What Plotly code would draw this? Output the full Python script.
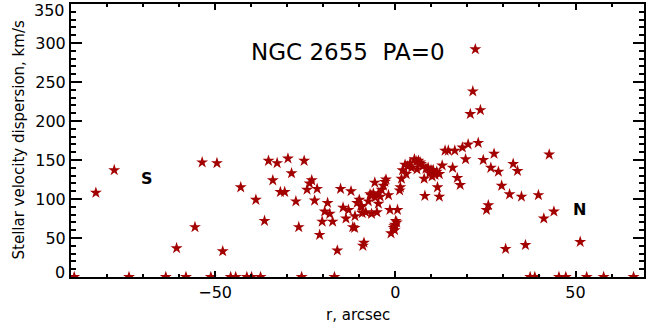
import plotly.graph_objects as go

# Zero-valued points (sigma = 0)
r_zero = [-89.1, -73.9, -63.7, -58.1, -51.2, -45.7, -44.3, -41.2, -39.9, -37.4,
          -26.0, -16.9, 37.4, 38.7, 45.4, 47.3, 53.1, 57.8, 66.1]
sig_zero = [0] * len(r_zero)

r_pts = [-83.1, -78.0, -60.7, -55.6, -53.6, -49.5, -47.9, -42.9, -38.7, -36.3,
         -35.2, -32.8, -34.0, -31.9, -30.7, -29.8, -28.8, -27.6, -26.8, -25.3,
         -24.5, -23.8, -23.2, -21.7, -22.4, -21.0, -20.3, -19.6, -18.8, -18.2,
         -17.4, -16.1, -15.2, -14.5, -13.7, -13.0, -12.3, -11.8, -11.3, -11.2,
         -10.6, -10.0, -9.6, -9.0, -8.7, -9.2, -8.2, -7.5, -6.6, -6.6,
         -5.7, -5.6, -5.1, -4.7, -4.2, -3.8, -3.3, -2.9, -2.6, -1.9,
         -1.5, 0.6, 0.4, -0.1, -0.5, -0.3, -1.2, 1.2, 1.4, 1.7,
         2.0, 2.7, 3.4, 4.1, 4.5, 5.3, 6.4, 7.1, 8.0, 8.2,
         9.1, 9.9, 11.0, 11.7, 12.2, 13.0, 13.8, 14.7, 16.5, 15.9,
         17.2, 18.0, 18.6, 19.5, 20.2, 20.8, 21.5, 22.2, 23.0, 23.6,
         24.4, 26.5, 27.4, 28.6, 29.5, 31.7, 32.7, 33.9, 35.0, 39.7,
         42.7, 25.8, 25.3, 44.0, 41.2, 36.1, 30.6, 51.3,
         5.8, 6.9, 7.6, 8.5, 10.5, 11.5, 12.2, 10.2, 3.0, 6.0,
         9.5, -7.0, -6.1, -4.7, -9.3, -0.2, 0.1]
sig_pts = [108, 137, 37, 64, 147, 146, 33, 115, 99, 72,
           149, 146, 124, 109, 109, 152, 133, 97, 64, 149,
           112, 120, 124, 113, 98, 54, 71, 84, 95, 81,
           71, 34, 113, 89, 75, 86, 110, 64, 63, 78,
           95, 99, 91, 40, 44, 82, 83, 97, 104, 81,
           121, 102, 83, 94, 103, 112, 117, 122, 125, 105,
           86, 86, 70, 67, 63, 65, 56, 111, 115, 126,
           137, 144, 142, 146, 140, 151, 149, 145, 126, 104,
           140, 137, 131, 115, 103, 143, 162, 162, 162, 140,
           127, 118, 166, 151, 170, 209, 238, 292, 172, 214,
           150, 140, 158, 135, 117, 106, 145, 136, 103, 105,
           157, 92, 86, 84, 75, 41, 36, 45,
           148, 147, 142, 139, 137, 135, 132, 129, 132, 138,
           133, 106, 107, 107, 90, 60, 72]

r_all = r_zero + r_pts
sig_all = sig_zero + sig_pts

x_ticks = [-50, 0, 50]
y_ticks = [0, 50, 100, 150, 200, 250, 300, 350]
y_ticktext = ["", "50", "100", "150", "200", "250", "300", ""]

title_text = "NGC 2655  PA=0"
x_title = "r, arcsec"
y_title = "Stellar velocity dispersion, km/s"

RED = "#a30000"
FONT = "DejaVu Sans"

fig = go.Figure()
fig.add_trace(go.Scatter(
    x=r_all, y=sig_all, mode="markers",
    marker=dict(symbol="star", size=9, color=RED, line=dict(width=0)),
    cliponaxis=True, showlegend=False,
))

axis_common = dict(
    showgrid=False, zeroline=False, showline=True, linecolor="black",
    linewidth=2, mirror="allticks", ticks="inside", tickcolor="black",
    tickwidth=1.5, tickfont=dict(family=FONT, size=16, color="black"),
)

fig.update_xaxes(
    range=[-90, 69], tickvals=x_ticks, ticklen=6,
    minor=dict(dtick=10, ticks="inside", ticklen=3, tickcolor="black", tickwidth=1.5),
    **axis_common,
)
fig.update_yaxes(
    range=[0, 350], tickvals=y_ticks, ticktext=y_ticktext, ticklen=11,
    minor=dict(dtick=10, ticks="inside", ticklen=5, tickcolor="black", tickwidth=1.5),
    **axis_common,
)

tick_ann = dict(xref="paper", yref="paper", x=0, xanchor="right", xshift=-4,
                showarrow=False, font=dict(family=FONT, size=16, color="black"))

fig.update_layout(
    width=647, height=329,
    margin=dict(l=71, r=1, t=4, b=52),
    paper_bgcolor="white", plot_bgcolor="white",
    annotations=[
        dict(text=title_text, x=0.483, y=0.879, xref="paper", yref="paper",
             showarrow=False, font=dict(family=FONT, size=23, color="black")),
        dict(text=x_title, x=0.5, y=0, xref="paper", yref="paper", yanchor="middle",
             yshift=-38, showarrow=False, font=dict(family=FONT, size=15, color="black")),
        dict(text=y_title, x=0, y=0.5, xref="paper", yref="paper", xanchor="center",
             xshift=-53, textangle=-90, showarrow=False,
             font=dict(family=FONT, size=15, color="black")),
        dict(text="<b>S</b>", x=-68.8, y=126, xref="x", yref="y", showarrow=False,
             font=dict(family=FONT, size=16, color="black")),
        dict(text="<b>N</b>", x=51.2, y=86, xref="x", yref="y", showarrow=False,
             font=dict(family=FONT, size=16, color="black")),
        dict(text="350", y=1, yanchor="middle", yshift=-6, **tick_ann),
        dict(text="0", y=0, yanchor="middle", yshift=5, **tick_ann),
    ],
)

fig.write_html("out.html")
